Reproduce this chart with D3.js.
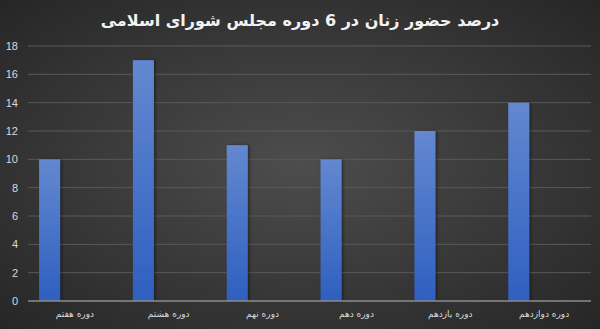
<!DOCTYPE html>
<html>
<head>
<meta charset="utf-8">
<script src="https://cdn.jsdelivr.net/npm/d3@7"></script>
<style>
  body { margin: 0; background: #333; }
  svg { display: block; }
</style>
</head>
<body>
<svg id="chart" width="600" height="329"></svg>
<script>
// data
let categories = ['دوره هفتم', 'دوره هشتم', 'دوره نهم', 'دوره دهم', 'دوره یازدهم', 'دوره دوازدهم']
let values = [10, 17, 11, 10, 12, 14]
let yTicks = [0, 2, 4, 6, 8, 10, 12, 14, 16, 18]
let title = 'درصد حضور زنان در 6 دوره مجلس شورای اسلامی'

let width = 600, height = 329
let margin = {top: 46, right: 9, bottom: 28, left: 28}

let svg = d3.select('#chart')
let defs = svg.append('defs')

let bg = defs.append('radialGradient').attr('id', 'bg')
    .attr('cx', '50%').attr('cy', '50%').attr('r', '70%')
bg.append('stop').attr('offset', '0%').attr('stop-color', '#4d4d4d')
bg.append('stop').attr('offset', '100%').attr('stop-color', '#262626')

let barGrad = defs.append('linearGradient').attr('id', 'bar')
    .attr('x1', 0).attr('y1', 0).attr('x2', 0).attr('y2', 1)
barGrad.append('stop').attr('offset', '0%').attr('stop-color', '#6388d0')
barGrad.append('stop').attr('offset', '100%').attr('stop-color', '#2f5fc0')

let shadow = defs.append('filter').attr('id', 'shadow')
    .attr('x', '-30%').attr('y', '-10%').attr('width', '160%').attr('height', '120%')
shadow.append('feDropShadow').attr('dx', 1.5).attr('dy', 0).attr('stdDeviation', 1.5)
    .attr('flood-color', '#000').attr('flood-opacity', 0.45)

svg.append('rect').attr('width', width).attr('height', height).attr('fill', 'url(#bg)')

svg.append('text')
    .attr('x', 300).attr('y', 26)
    .attr('text-anchor', 'middle')
    .attr('direction', 'rtl')
    .attr('font-family', 'DejaVu Sans, Noto Sans, sans-serif')
    .attr('font-weight', 'bold')
    .attr('font-size', 16)
    .attr('fill', '#f2f2f2')
    .text(title)

let x = d3.scaleBand()
    .domain(categories)
    .range([margin.left, width - margin.right])

let y = d3.scaleLinear()
    .domain([0, 18])
    .range([height - margin.bottom, margin.top])

// gridlines
svg.append('g')
    .selectAll('line')
    .data(yTicks.filter(d => d > 0))
    .enter()
    .append('line')
    .attr('x1', margin.left).attr('x2', width - margin.right)
    .attr('y1', d => y(d)).attr('y2', d => y(d))
    .attr('stroke', '#5a5a5a').attr('stroke-width', 1)

// y tick labels
svg.append('g')
    .selectAll('text')
    .data(yTicks)
    .enter()
    .append('text')
    .attr('x', 18).attr('y', d => y(d) + 4)
    .attr('text-anchor', 'end')
    .attr('font-family', 'Liberation Sans, Arial, sans-serif')
    .attr('font-size', 11)
    .attr('fill', '#d9d9d9')
    .text(d => d)

// bars (sit in the left part of each band, like an excel cluster)
svg.append('g')
    .selectAll('rect')
    .data(values)
    .enter()
    .append('rect')
    .attr('x', (d, i) => x(categories[i]) + x.bandwidth() * 0.118)
    .attr('width', x.bandwidth() * 0.224)
    .attr('y', d => y(d))
    .attr('height', d => y(0) - y(d))
    .attr('fill', 'url(#bar)')
    .attr('filter', 'url(#shadow)')

// baseline
svg.append('line')
    .attr('x1', margin.left).attr('x2', width - margin.right)
    .attr('y1', y(0)).attr('y2', y(0))
    .attr('stroke', '#8c8c8c').attr('stroke-width', 1.5)

// category labels
svg.append('g')
    .selectAll('text')
    .data(categories)
    .enter()
    .append('text')
    .attr('x', d => x(d) + x.bandwidth() / 2)
    .attr('y', 317)
    .attr('text-anchor', 'middle')
    .attr('direction', 'rtl')
    .attr('font-family', 'DejaVu Sans, Noto Sans, sans-serif')
    .attr('font-size', 9)
    .attr('fill', '#d9d9d9')
    .text(d => d)
</script>
</body>
</html>
